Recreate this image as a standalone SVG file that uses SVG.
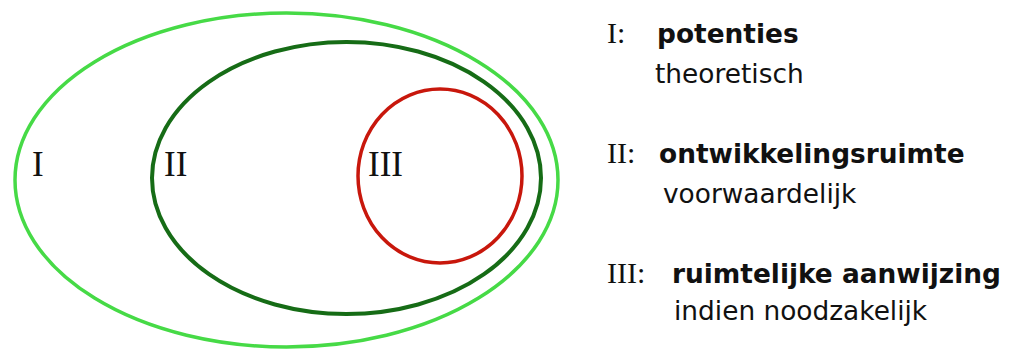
<svg xmlns="http://www.w3.org/2000/svg" width="1015" height="349" viewBox="0 0 1015 349">
  <style>
    .ring { fill: none; }
    .outer { stroke: #46da46; stroke-width: 3.5; }
    .middle { stroke: #166c16; stroke-width: 4; }
    .inner { stroke: #c8170c; stroke-width: 3.5; }
    .num { font-family: "Liberation Serif", "Times New Roman", serif; fill: #111; }
    .big { font-size: 35px; }
    .small { font-size: 30px; }
    .head { font-family: "DejaVu Sans", Verdana, sans-serif; font-weight: bold; font-size: 26.4px; fill: #111; }
    .sub { font-family: "DejaVu Sans", Verdana, sans-serif; font-size: 26.4px; fill: #111; }
  </style>

  <!-- nested zones -->
  <g id="zone-I">
    <ellipse class="ring outer" cx="286.5" cy="180" rx="271.5" ry="167"/>
    <text class="num big" x="32" y="176">I</text>
  </g>
  <g id="zone-II">
    <ellipse class="ring middle" cx="346.5" cy="178" rx="194.5" ry="136"/>
    <text class="num big" x="164" y="176">II</text>
  </g>
  <g id="zone-III">
    <ellipse class="ring inner" cx="440" cy="176" rx="82" ry="87"/>
    <text class="num big" x="368" y="176">III</text>
  </g>

  <!-- no connectors in this figure -->
  <g id="connectors"/>

  <!-- legend -->
  <g id="legend-I">
    <text class="num small" x="607" y="43">I:</text>
    <text class="head" x="657" y="43">potenties</text>
    <text class="sub" x="655" y="83">theoretisch</text>
  </g>
  <g id="legend-II">
    <text class="num small" x="607" y="163">II:</text>
    <text class="head" x="659" y="163">ontwikkelingsruimte</text>
    <text class="sub" x="663" y="203">voorwaardelijk</text>
  </g>
  <g id="legend-III">
    <text class="num small" x="607" y="283">III:</text>
    <text class="head" x="672" y="283">ruimtelijke aanwijzing</text>
    <text class="sub" x="674" y="320">indien noodzakelijk</text>
  </g>
</svg>
